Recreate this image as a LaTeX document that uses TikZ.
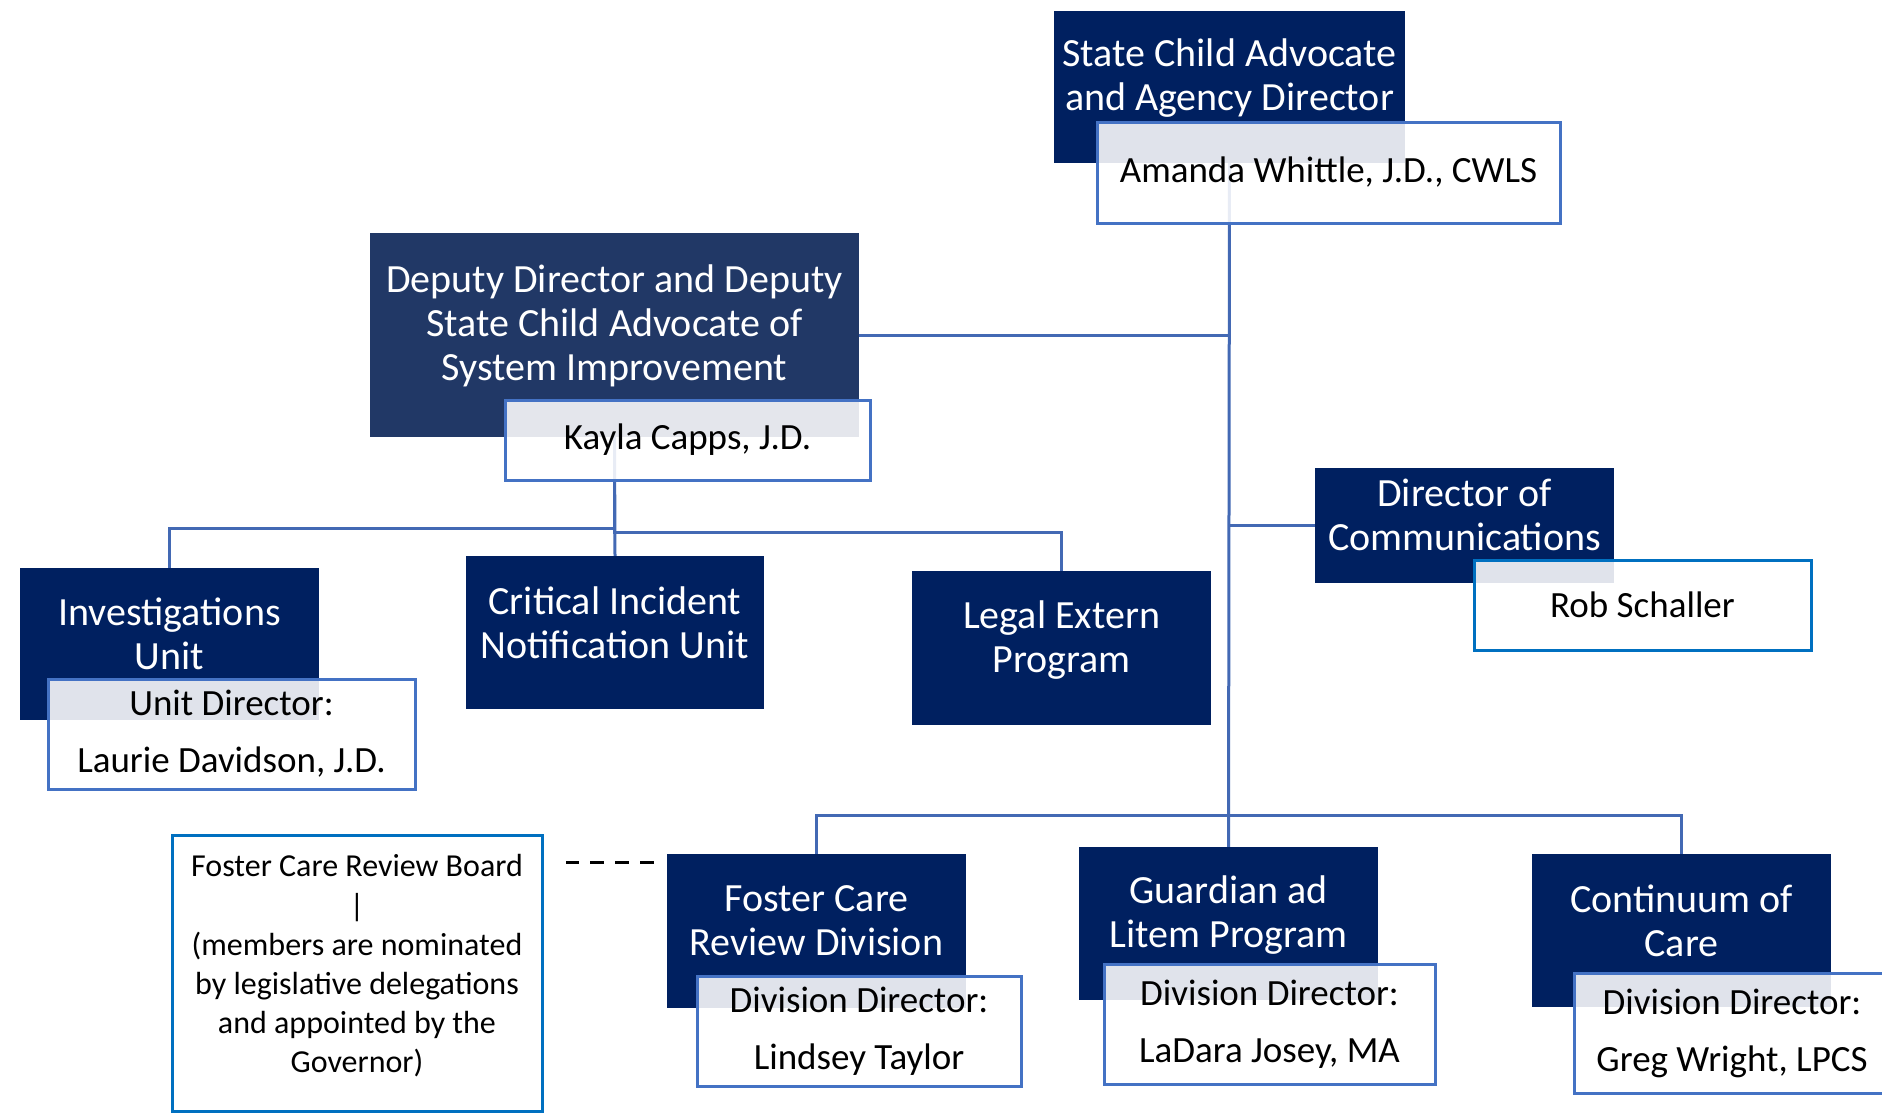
\documentclass[tikz,border=0pt]{standalone}
\usepackage{fontspec}
\setmainfont{Carlito}
\usetikzlibrary{backgrounds}
\definecolor{navy}{HTML}{002060}
\definecolor{depnavy}{HTML}{213866}
\definecolor{linkblue}{HTML}{4369B4}
\definecolor{boxblue}{HTML}{4472C4}
\definecolor{brightblue}{HTML}{0070C0}
\tikzset{
  darkbox/.style={fill=navy, draw=none, inner sep=0pt},
  dtext/.style={text=white, align=center, inner sep=0pt, font=\fontsize{40}{44}\selectfont},
  whitebox/.style={fill=white, fill opacity=0.88, text opacity=1, draw=boxblue, line width=3pt, inner sep=0pt, text=black, align=center, font=\fontsize{37}{57}\selectfont},
  link/.style={draw=linkblue, line width=3pt},
  dashline/.style={draw=black, line width=3pt, dash pattern=on 14pt off 11pt}
}
\begin{document}
\begin{tikzpicture}[x=1pt,y=-1pt]
\clip (0,0) rectangle (1882,1116);
% dark boxes
\node[darkbox, minimum width=351pt, minimum height=152pt] (top) at (1229.5,87) {};
\node[darkbox, fill=depnavy, minimum width=489pt, minimum height=204pt] (dep) at (614.5,335) {};
\node[darkbox, minimum width=299pt, minimum height=115pt] (comms) at (1464.5,525.5) {};
\node[darkbox, minimum width=299pt, minimum height=152pt] (inv) at (169.5,644) {};
\node[darkbox, minimum width=298pt, minimum height=153pt] (crit) at (615,632.5) {};
\node[darkbox, minimum width=299pt, minimum height=154pt] (legal) at (1061.5,648) {};
\node[darkbox, minimum width=299pt, minimum height=154pt] (fcd) at (816.5,931) {};
\node[darkbox, minimum width=299pt, minimum height=153pt] (gal) at (1228.5,923.5) {};
\node[darkbox, minimum width=299pt, minimum height=153pt] (coc) at (1681.5,930.5) {};
% dark box texts
\node[dtext] (topT) at (1229.5,78) {State Child Advocate\\and Agency Director};
\node[dtext] (depT) at (614.5,326) {Deputy Director and Deputy\\State Child Advocate of\\System Improvement};
\node[dtext] (commsT) at (1464.5,515) {Director of\\Communications};
\node[dtext] (invT) at (169.5,634) {Investigations\\Unit};
\node[dtext] (critT) at (615,623) {Critical Incident\\Notification Unit};
\node[dtext] (legalT) at (1061.5,640) {Legal Extern\\Program};
\node[dtext] (fcdT) at (816.5,921) {Foster Care\\Review Division};
\node[dtext] (galT) at (1228.5,915) {Guardian ad\\Litem Program};
\node[dtext] (cocT) at (1681.5,921) {Continuum of\\Care};
% white boxes
\node[whitebox, minimum width=463pt, minimum height=101pt] (amanda) at (1328.5,172.5) {Amanda Whittle, J.D., CWLS};
\node[whitebox, minimum width=365pt, minimum height=80pt] (kayla) at (687.5,440) {Kayla Capps, J.D.};
\node[whitebox, draw=brightblue, minimum width=337pt, minimum height=90pt] (rob) at (1642.5,605) {Rob Schaller};
\node[whitebox, minimum width=367pt, minimum height=110pt] (invw) at (231.5,734) {Unit Director:\\Laurie Davidson, J.D.};
\node[whitebox, minimum width=324pt, minimum height=110pt] (fcdw) at (859,1031) {Division Director:\\Lindsey Taylor};
\node[whitebox, minimum width=331pt, minimum height=120pt] (galw) at (1269.5,1024) {Division Director:\\LaDara Josey, MA};
\node[whitebox, minimum width=316pt, minimum height=120pt] (cocw) at (1732,1033) {Division Director:\\Greg Wright, LPCS};
\node[whitebox, draw=brightblue, minimum width=370pt, minimum height=276pt] (board) at (357,973) {};
\node[text=black, align=center, inner sep=0pt, font=\fontsize{32}{39.2}\selectfont] (boardT) at (357,966) {Foster Care Review Board\\|\\(members are nominated\\by legislative delegations\\and appointed by the\\Governor)};
% connectors
\begin{scope}[on background layer]
\fill[white] (0,0) rectangle (1882,1116);
\draw[link] (top.south) -- (gal.north);
\draw[link] (dep.east) -- (dep.east -| top.south);
\draw[link] (comms.west) -- (comms.west -| top.south);
\draw[link] (fcd.north) -- ++(0,-38) -| (coc.north);
\draw[link] (dep.south) -- (crit.north);
\draw[link] (inv.north) -- ++(0,-39) -| (dep.south);
\draw[link] (legal.north) -- ++(0,-38) -| (dep.south);
\end{scope}
\draw[dashline] ([xshift=-13pt]fcd.west |- 0,862) -- ([xshift=22pt]board.east |- 0,862);
\end{tikzpicture}
\end{document}
